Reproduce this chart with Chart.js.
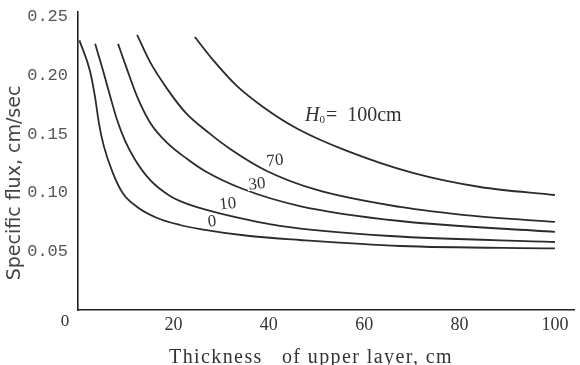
<!DOCTYPE html>
<html>
<head>
<meta charset="utf-8">
<script src="https://cdn.jsdelivr.net/npm/chart.js@4.4.1/dist/chart.umd.min.js"></script>
<style>
  html, body { margin: 0; padding: 0; background: #fff; }
</style>
</head>
<body>
<canvas id="fluxChart" width="580" height="365"></canvas>
<script>
// thickness of upper layer (cm) and specific flux (cm/sec), one pair per H0 curve
const thick0   = [0.3, 2.5, 3.6, 4.4, 5.4, 7.3, 9.4, 12.4, 16.6, 21.4, 25.6, 36, 46.5, 67.5, 100];
const flux0    = [0.230, 0.204, 0.181, 0.159, 0.140, 0.117, 0.0996, 0.0879, 0.0785, 0.0725, 0.069, 0.0631, 0.0597, 0.0546, 0.0525];

const thick10  = [3.6, 5.2, 6.7, 8.2, 9.9, 12.0, 15.1, 19.3, 23.5, 27.7, 31.9, 42.3, 65.4, 100];
const flux10   = [0.227, 0.205, 0.183, 0.162, 0.144, 0.128, 0.111, 0.0973, 0.0896, 0.0845, 0.0802, 0.0717, 0.0631, 0.058];

const thick30  = [8.4, 10.3, 12.4, 15.1, 18.7, 22.9, 26.6, 34.6, 46.5, 67.5, 100];
const flux30   = [0.227, 0.205, 0.182, 0.160, 0.1425, 0.1288, 0.1186, 0.1032, 0.0887, 0.0759, 0.0666];

const thick70  = [12.4, 15.1, 18.7, 22.6, 27.7, 31.9, 39.6, 50.1, 67.5, 83, 100];
const flux70   = [0.2346, 0.2116, 0.1886, 0.1681, 0.1502, 0.1374, 0.1186, 0.1024, 0.0879, 0.0802, 0.0751];

const thick100 = [24.5, 28.3, 33.3, 38.8, 46.1, 56.4, 70.2, 84.3, 100];
const flux100  = [0.2329, 0.2133, 0.1911, 0.1732, 0.1544, 0.1357, 0.1169, 0.1049, 0.0981];

const xTicks = [20, 40, 60, 80, 100];
const yTicks = [0.05, 0.10, 0.15, 0.20, 0.25];

// curve labels: text and anchor in data units
const curveLabels = ['0', '10', '30', '70'];
const labelX = [28.1, 31.4, 37.5, 41.3];
const labelY = [0.076, 0.091, 0.108, 0.128];

function toPoints(xs, ys) {
  return xs.map((v, i) => ({ x: v, y: ys[i] }));
}

function lineSet(xs, ys) {
  return {
    data: toPoints(xs, ys),
    showLine: true,
    borderColor: '#2b2b2b',
    borderWidth: 1.8,
    pointRadius: 0,
    cubicInterpolationMode: 'monotone',
    fill: false
  };
}

const textPlugin = {
  id: 'textPlugin',
  afterDatasetsDraw(chart) {
    const { ctx, scales: { x, y }, chartArea } = chart;
    ctx.save();
    ctx.fillStyle = '#333';
    ctx.textBaseline = 'middle';

    // curve labels with a white box behind
    ctx.font = '17px "Liberation Serif"';
    ctx.textAlign = 'center';
    curveLabels.forEach((t, i) => {
      const px = x.getPixelForValue(labelX[i]);
      const py = y.getPixelForValue(labelY[i]);
      const w = ctx.measureText(t).width;
      ctx.save();
      ctx.translate(px, py);
      ctx.rotate(-0.1);
      ctx.fillStyle = '#fff';
      ctx.fillRect(-w / 2 - 1, -7, w + 2, 14);
      ctx.fillStyle = '#333';
      ctx.fillText(t, 0, 1);
      ctx.restore();
    });

    // H0 = 100cm
    let hx = x.getPixelForValue(47.6);
    const hy = y.getPixelForValue(0.166);
    ctx.textAlign = 'left';
    ctx.font = 'italic 20px "Liberation Serif"';
    ctx.fillText('H', hx, hy);
    hx += ctx.measureText('H').width;
    ctx.font = '11px "Liberation Serif"';
    ctx.fillText('0', hx, hy + 5);
    hx += ctx.measureText('0').width + 1;
    ctx.font = '20px "Liberation Serif"';
    ctx.fillText('=  100cm', hx, hy);

    // corner zero
    ctx.font = '17px "Liberation Serif"';
    ctx.textAlign = 'center';
    ctx.fillText('0', chartArea.left - 13, chartArea.bottom + 12);

    // axis titles
    ctx.font = '20px "Liberation Serif"';
    ctx.letterSpacing = '1.4px';
    ctx.fillText('Thickness   of upper layer, cm', 311, 358);
    ctx.letterSpacing = '0px';

    ctx.save();
    ctx.translate(15, 183);
    ctx.rotate(-Math.PI / 2);
    ctx.font = '19px "DejaVu Sans"';
    ctx.fillStyle = '#444';
    ctx.fillText('Specific flux, cm/sec', 0, 0);
    ctx.restore();

    ctx.restore();
  }
};

const chart = new Chart(document.getElementById('fluxChart'), {
  type: 'scatter',
  data: {
    datasets: [
      lineSet(thick0, flux0),
      lineSet(thick10, flux10),
      lineSet(thick30, flux30),
      lineSet(thick70, flux70),
      lineSet(thick100, flux100)
    ]
  },
  options: {
    responsive: false,
    animation: false,
    layout: { padding: { top: 12, right: 6, left: 0, bottom: 0 } },
    plugins: {
      legend: { display: false },
      tooltip: { enabled: false }
    },
    scales: {
      x: {
        type: 'linear',
        min: 0,
        max: 104,
        afterBuildTicks: s => { s.ticks = xTicks.map(v => ({ value: v })); },
        afterFit: s => { s.height = 55; },
        grid: { display: false },
        border: { display: true, color: '#222', width: 1.6 },
        ticks: {
          padding: -4,
          color: '#333',
          font: { family: 'Liberation Serif', size: 18 }
        }
      },
      y: {
        min: 0,
        max: 0.254,
        afterBuildTicks: s => { s.ticks = yTicks.map(v => ({ value: v })); },
        afterFit: s => { s.width = 78; },
        grid: { display: false },
        border: { display: true, color: '#222', width: 1.6 },
        ticks: {
          padding: 2,
          color: '#555',
          font: { family: 'Liberation Mono', size: 17 },
          callback: v => v.toFixed(2)
        }
      }
    }
  },
  plugins: [textPlugin]
});
</script>
</body>
</html>
